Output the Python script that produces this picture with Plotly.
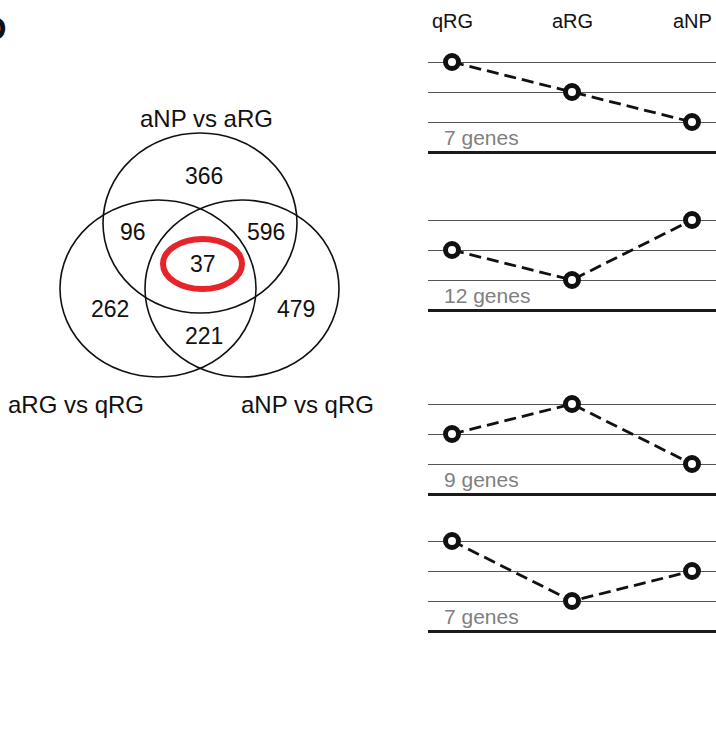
import plotly.graph_objects as go

W, H = 716, 740
FONT = "Liberation Sans, Arial, Helvetica, sans-serif"

# ---------------- data ----------------
categories = ["qRG", "aRG", "aNP"]
pattern_1 = [3, 2, 1]
pattern_2 = [2, 1, 3]
pattern_3 = [2, 3, 1]
pattern_4 = [3, 1, 2]
gene_counts = [7, 12, 9, 7]

venn_set_labels = ["aNP vs aRG", "aRG vs qRG", "aNP vs qRG"]
venn_region_names = ["A", "AB", "AC", "ABC", "B", "C", "BC"]
venn_region_counts = [366, 96, 596, 37, 262, 479, 221]

patterns = [pattern_1, pattern_2, pattern_3, pattern_4]

# ---------------- layout helpers (pixel positions) ----------------
def py(p):
    return 1 - p / H

fig = go.Figure()

# Venn circles (ellipses in pixel space of the main axes)
circles = [
    (103, 297, 133, 313),   # A  aNP vs aRG
    (60, 256, 200, 377),    # B  aRG vs qRG
    (145, 339, 200, 377),   # C  aNP vs qRG
]
for x0, x1, y0, y1 in circles:
    fig.add_shape(type="circle", xref="x", yref="y", x0=x0, x1=x1, y0=y0, y1=y1,
                  line=dict(color="#111111", width=1.6))

# highlight ellipse around triple intersection
fig.add_shape(type="circle", xref="x", yref="y", x0=163, x1=242, y0=239, y1=289,
              line=dict(color="#e8242b", width=6))

region_pos = {"A": (204, 176), "AB": (133, 232), "AC": (266, 232), "ABC": (203, 264),
              "B": (110, 309), "C": (296, 309), "BC": (204, 336)}
for name, cnt in zip(venn_region_names, venn_region_counts):
    x, y = region_pos[name]
    fig.add_annotation(x=x, y=y, xref="x", yref="y", text=str(cnt), showarrow=False,
                       font=dict(size=23, color="#111111", family=FONT))

label_pos = [(206, 118), (76, 404), (307, 404)]
for lab, (x, y) in zip(venn_set_labels, label_pos):
    fig.add_annotation(x=x, y=y, xref="x", yref="y", text=lab, showarrow=False,
                       font=dict(size=24, color="#111111", family=FONT))

# panel letter (partly cut off at left edge)
fig.add_annotation(x=9, y=28, xref="x", yref="y", text="<b>D</b>", showarrow=False,
                   xanchor="right", font=dict(size=34, color="#111111", family=FONT))

# ---------------- expression pattern panels ----------------
panel_bottoms = [152, 310, 494, 631]   # pixel y of level 0
unit = 30.0
yr = [-0.1, 3.5]
x_left_px = 428

layout_axes = {}
for i, (pat, n, base) in enumerate(zip(patterns, gene_counts, panel_bottoms)):
    k = i + 2
    xa, ya = f"x{k}", f"y{k}"
    top_px = base - yr[1] * unit
    bot_px = base - yr[0] * unit
    fig.add_trace(go.Scatter(
        x=categories, y=pat, xaxis=xa, yaxis=ya, mode="lines+markers",
        line=dict(color="#111111", width=2.8, dash="12px,6px"),
        marker=dict(symbol="circle", size=13, color="white",
                    line=dict(color="#111111", width=5)),
        cliponaxis=False, showlegend=False, hoverinfo="skip"))
    layout_axes[f"xaxis{k}"] = dict(domain=[x_left_px / W, 1], range=[-0.2, 2.2],
                                    type="category", categoryorder="array",
                                    categoryarray=categories, anchor=ya,
                                    showgrid=False, zeroline=False, showticklabels=False,
                                    ticks="", showline=False, fixedrange=True)
    layout_axes[f"yaxis{k}"] = dict(domain=[py(bot_px), py(top_px)], range=yr, anchor=xa,
                                    tickvals=[1, 2, 3], showticklabels=False, ticks="",
                                    showgrid=True, gridcolor="#555555", gridwidth=1,
                                    zeroline=True, zerolinecolor="#1a1a1a", zerolinewidth=2.5,
                                    showline=False, fixedrange=True)
    fig.add_annotation(x=-0.085, y=0.47, xref=xa, yref=ya, text=f"{n} genes",
                       showarrow=False, xanchor="left", yanchor="middle",
                       font=dict(size=21, color="#808080", family=FONT))

# column headers
for c in categories:
    fig.add_annotation(x=c, y=py(21), xref="x2", yref="paper", text=c, showarrow=False,
                       xanchor="center", yanchor="middle",
                       font=dict(size=20, color="#111111", family=FONT))

fig.update_layout(
    width=W, height=H, margin=dict(l=0, r=0, t=0, b=0),
    paper_bgcolor="white", plot_bgcolor="rgba(0,0,0,0)",
    xaxis=dict(domain=[0, 1], range=[0, W], visible=False, fixedrange=True),
    yaxis=dict(domain=[0, 1], range=[H, 0], visible=False, fixedrange=True),
    **layout_axes,
)

fig.write_html("out.html", config={"displayModeBar": False},
               post_script="document.body.style.margin='0';document.body.style.overflow='hidden';")
